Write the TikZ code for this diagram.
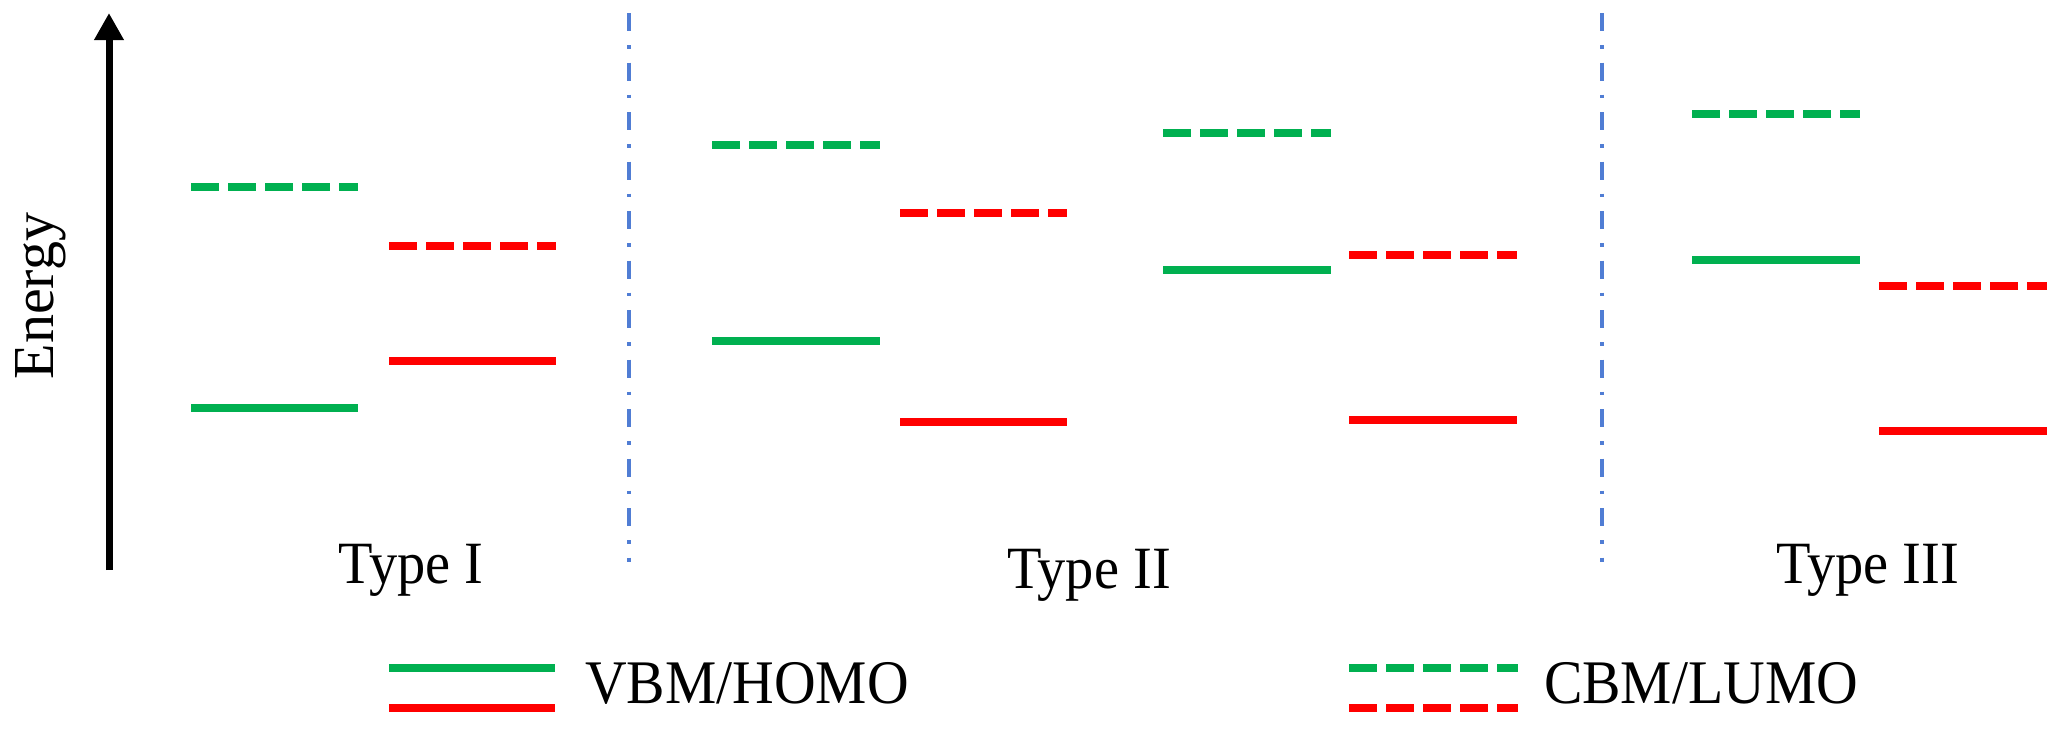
\documentclass[tikz,border=0pt]{standalone}
\usepackage{graphicx}
\usepackage{fontspec}
\setmainfont{Liberation Serif}
\usetikzlibrary{arrows.meta}
\definecolor{lvgreen}{RGB}{0,176,80}
\definecolor{lvred}{RGB}{255,0,0}
\definecolor{divblue}{RGB}{80,125,212}
\tikzset{
  lvl/.style={line width=8pt, line cap=butt},
  vbgreen/.style={lvl, draw=lvgreen},
  vbred/.style={lvl, draw=lvred},
  cbgreen/.style={lvl, draw=lvgreen, dash pattern=on 28pt off 9pt},
  cbred/.style={lvl, draw=lvred, dash pattern=on 28pt off 9pt},
  divline/.style={draw=divblue, line width=3.5pt, dash pattern=on 18pt off 14pt on 3.5pt off 14pt},
  energyarrow/.style={draw=black, line width=7pt, -{Triangle[width=28pt,length=27pt]}},
  typelabel/.style={anchor=base, inner sep=0pt, font=\fontsize{60}{72}\selectfont},
  legendlabel/.style={anchor=base, inner sep=0pt, font=\fontsize{62}{74}\selectfont},
}
\begin{document}
\begin{tikzpicture}[x=1pt,y=-1pt]
\useasboundingbox[fill=white] (0,0) rectangle (2068,734);
% energy axis
\coordinate (abot) at (109,570);
\coordinate (atop) at (109,13);
\draw[energyarrow] (abot) -- (atop);
\node[rotate=90, anchor=base, inner sep=0pt, font=\fontsize{58}{70}\selectfont] (energy) at (53,296) {Energy};
% dividers
\coordinate (d1t) at (629,13); \coordinate (d1b) at (629,562);
\coordinate (d2t) at (1602,13); \coordinate (d2b) at (1602,562);
\draw[divline] (d1t) -- (d1b);
\draw[divline] (d2t) -- (d2b);
% Type I
\draw[cbgreen] (191,187) -- (358,187);
\draw[vbgreen] (191,408) -- (358,408);
\draw[cbred] (389,246) -- (556,246);
\draw[vbred] (389,361) -- (556,361);
% Type II
\draw[cbgreen] (712,145) -- (880,145);
\draw[vbgreen] (712,341) -- (880,341);
\draw[cbred] (900,213) -- (1067,213);
\draw[vbred] (900,422) -- (1067,422);
\draw[cbgreen] (1163,133) -- (1331,133);
\draw[vbgreen] (1163,270) -- (1331,270);
\draw[cbred] (1349,255) -- (1517,255);
\draw[vbred] (1349,420) -- (1517,420);
% Type III
\draw[cbgreen] (1692,114) -- (1860,114);
\draw[vbgreen] (1692,259.5) -- (1860,259.5);
\draw[cbred] (1879,285.5) -- (2047,285.5);
\draw[vbred] (1879,431) -- (2047,431);
% type labels
\node[typelabel] (t1) at (411,583) {\scalebox{0.94}[1]{Type I}};
\node[typelabel] (t2) at (1089,588) {\scalebox{0.94}[1]{Type II}};
\node[typelabel] (t3) at (1868,583) {\scalebox{0.94}[1]{Type III}};
% legend
\draw[vbgreen] (389,668) -- (555,668);
\draw[vbred] (389,708) -- (555,708);
\node[legendlabel] (lg1) at (747,703) {\scalebox{0.93}[1]{VBM/HOMO}};
\draw[cbgreen] (1349,668) -- (1518,668);
\draw[cbred] (1349,708) -- (1518,708);
\node[legendlabel] (lg2) at (1701,703) {\scalebox{0.93}[1]{CBM/LUMO}};
\end{tikzpicture}
\end{document}
